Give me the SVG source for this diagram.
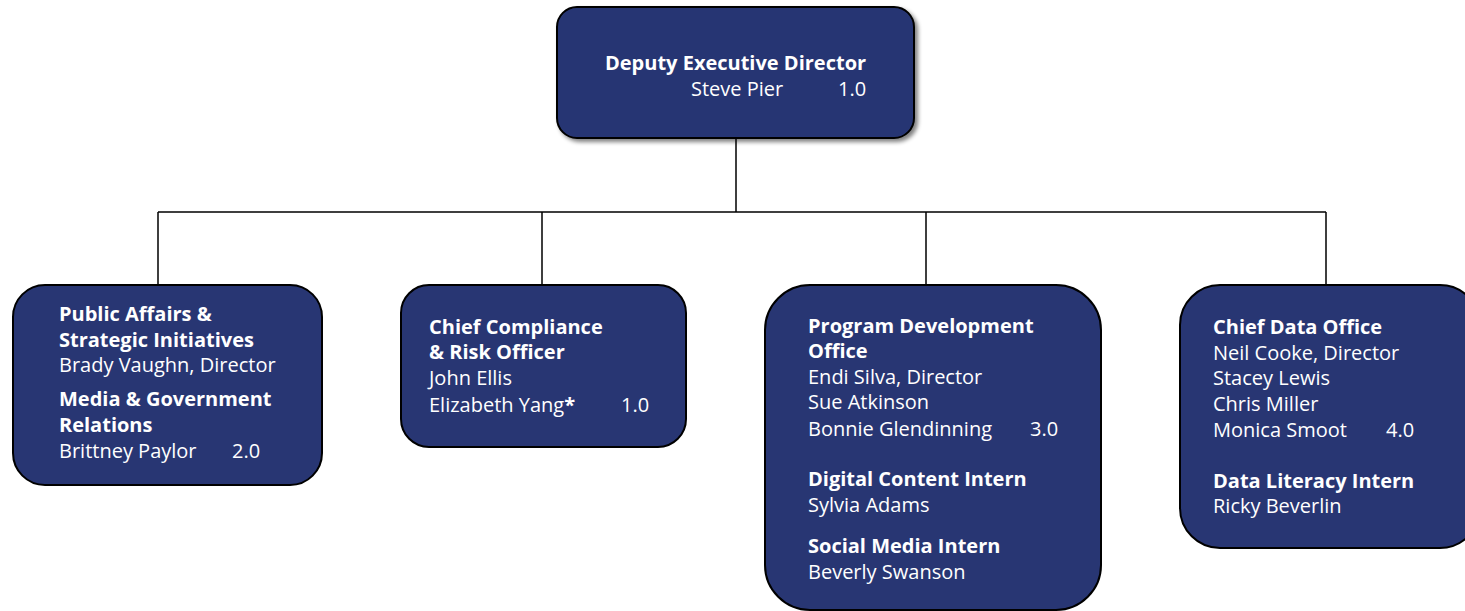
<svg xmlns="http://www.w3.org/2000/svg" width="1465" height="611" viewBox="0 0 1465 611">
<defs>
<filter id="sh" x="-10%" y="-10%" width="130%" height="130%">
<feGaussianBlur in="SourceAlpha" stdDeviation="2"/>
<feOffset dx="3" dy="3" result="o"/>
<feComponentTransfer><feFuncA type="linear" slope="0.5"/></feComponentTransfer>
<feMerge><feMergeNode/><feMergeNode in="SourceGraphic"/></feMerge>
</filter>
</defs>
<style>
.box{fill:#283673;stroke:#000;stroke-width:2}
text{font-family:"Open Sans","Noto Sans",sans-serif;font-size:20px;fill:#fff}
.b{font-weight:bold}
.ln{stroke:#000;stroke-width:1.5;fill:none}
</style>
<rect width="1465" height="611" fill="#fff"/>
<g id="connectors">
<path class="ln" d="M736 138V212M158 212H1326M158 212V285M542 212V285M926 212V285M1326 212V285"/>
</g>
<g id="n-deputy">
<rect class="box" x="557" y="7" width="357" height="131" rx="20" filter="url(#sh)"/>
<text class="b" x="605" y="70">Deputy Executive Director</text>
<text x="691" y="96">Steve Pier</text>
<text x="838" y="96">1.0</text>
</g>
<g id="n-public">
<rect class="box" x="13" y="285" width="309" height="200" rx="32"/>
<text class="b" x="59" y="321">Public Affairs &amp;</text>
<text class="b" x="59" y="347">Strategic Initiatives</text>
<text x="59" y="372">Brady Vaughn, Director</text>
<text class="b" x="59" y="406">Media &amp; Government</text>
<text class="b" x="59" y="432">Relations</text>
<text x="59" y="458">Brittney Paylor</text>
<text x="232" y="458">2.0</text>
</g>
<g id="n-compliance">
<rect class="box" x="401" y="285" width="285" height="162" rx="28"/>
<text class="b" x="429" y="334">Chief Compliance</text>
<text class="b" x="429" y="359">&amp; Risk Officer</text>
<text x="429" y="385">John Ellis</text>
<text x="429" y="412">Elizabeth Yang<tspan class="b">*</tspan></text>
<text x="621" y="412">1.0</text>
</g>
<g id="n-program">
<rect class="box" x="765" y="285" width="336" height="325" rx="45"/>
<text class="b" x="808" y="333">Program Development</text>
<text class="b" x="808" y="358">Office</text>
<text x="808" y="384">Endi Silva, Director</text>
<text x="808" y="409">Sue Atkinson</text>
<text x="808" y="436">Bonnie Glendinning</text>
<text x="1030" y="436">3.0</text>
<text class="b" x="808" y="486">Digital Content Intern</text>
<text x="808" y="512">Sylvia Adams</text>
<text class="b" x="808" y="553">Social Media Intern</text>
<text x="808" y="579">Beverly Swanson</text>
</g>
<g id="n-data">
<rect class="box" x="1180" y="285" width="300" height="263" rx="40"/>
<text class="b" x="1213" y="334">Chief Data Office</text>
<text x="1213" y="360">Neil Cooke, Director</text>
<text x="1213" y="385">Stacey Lewis</text>
<text x="1213" y="411">Chris Miller</text>
<text x="1213" y="437">Monica Smoot</text>
<text x="1386" y="437">4.0</text>
<text class="b" x="1213" y="488">Data Literacy Intern</text>
<text x="1213" y="513">Ricky Beverlin</text>
</g>
</svg>
